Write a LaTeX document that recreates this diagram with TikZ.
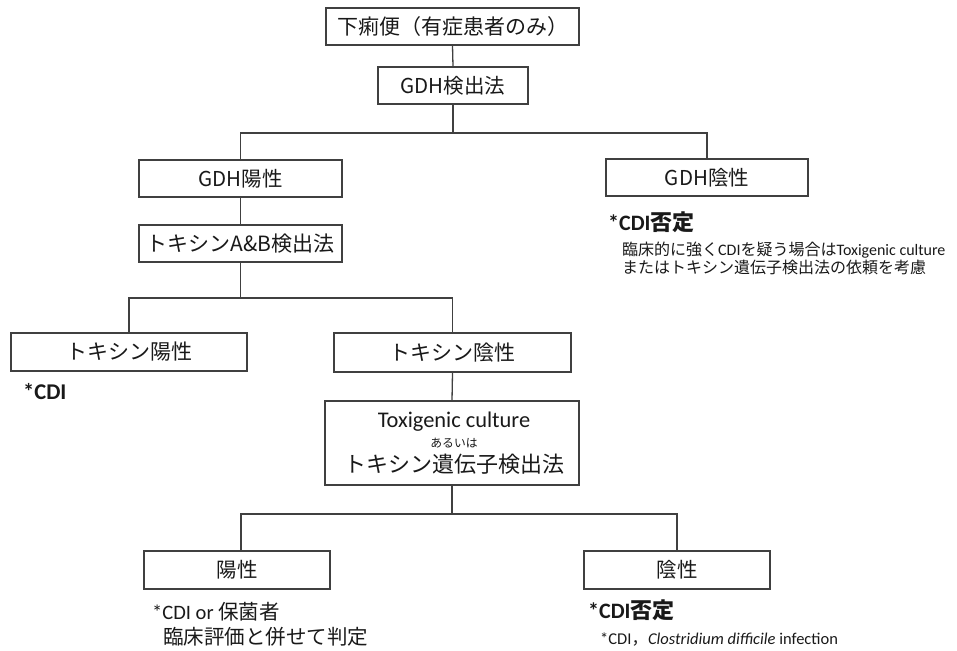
\documentclass[tikz,border=0pt]{standalone}
\usepackage{fontspec}
\setmainfont{Carlito}
\newfontfamily\jp{Noto Sans CJK JP}
\newfontfamily\lat{Carlito}
\begin{document}
\begin{tikzpicture}[x=1pt,y=-1pt,
  box/.style={draw=black!75, line width=1.3pt, inner sep=0pt, align=center, text=black!90,
    minimum height=37pt, font=\jp\fontsize{20.5}{24}\selectfont},
  conn/.style={draw=black!75, line width=1.3pt},
  note/.style={anchor=west, inner sep=0pt, text=black!90},
  txt/.style={inner sep=0pt, text=black!90}]
\useasboundingbox (0,0) rectangle (957,650);

% boxes
\node[box, minimum width=253pt, font=\jp\fontsize{21}{24}\selectfont] (b1) at (452.5,26.5) {下痢便（有症患者のみ）};
\node[box, minimum width=150pt] (b2) at (453,85.5) {GDH検出法};
\node[box, minimum width=203pt] (gp) at (240.5,178.5) {GDH陽性};
\node[box, minimum width=202pt] (gn) at (707,177.5) {GDH陰性};
\node[box, minimum width=203pt, font=\jp\fontsize{21}{24}\selectfont] (ab) at (240.5,243.5) {トキシンA\&B検出法};
\node[box, minimum width=236pt, minimum height=38pt, font=\jp\fontsize{21}{24}\selectfont] (tp) at (129,352) {トキシン陽性};
\node[box, minimum width=237pt, minimum height=39pt, font=\jp\fontsize{21}{24}\selectfont] (tn) at (452.5,352.5) {トキシン陰性};
\node[box, minimum width=254pt, minimum height=84pt] (tg) at (452,443) {};
\node[txt, font=\lat\fontsize{22.4}{24}\selectfont] (tg1) at (454,422) {Toxigenic culture};
\node[txt, font=\jp\fontsize{11.8}{13}\selectfont] (tg2) at (454,443) {あるいは};
\node[txt, font=\jp\fontsize{22}{24}\selectfont] (tg3) at (454,464) {トキシン遺伝子検出法};
\node[box, minimum width=186pt, minimum height=38pt] (p) at (237,570) {陽性};
\node[box, minimum width=186pt, minimum height=38pt] (n) at (677,570) {陰性};

% junctions
\coordinate (j1) at (453,133);
\coordinate (j2) at (240.5,298);
\coordinate (j3) at (452,514);

% connectors
\draw[conn] (b1.south) -- (b2.north);
\draw[conn] (b2.south) -- (j1);
\draw[conn] (gp.north) |- (j1) -| (gn.north);
\draw[conn] (gp.south) -- (ab.north);
\draw[conn] (ab.south) -- (j2);
\draw[conn] (tp.north) |- (j2) -| (tn.north);
\draw[conn] (tn.south) -- (tg.north);
\draw[conn] (tg.south) -- (j3);
\draw[conn] ([xshift=4pt]p.north) |- (j3) -| (n.north);

% notes
\node[note] (r1) at (608,222) {{\lat\bfseries\fontsize{22}{24}\selectfont *CDI}{\jp\bfseries\fontsize{22}{24}\selectfont 否定}};
\node[note, font=\fontsize{16}{18}\selectfont] (r2) at (622,250) {{\jp 臨床的に強く}{\lat CDI}{\jp を疑う場合は}{\lat Toxigenic culture}};
\node[note, font=\jp\fontsize{16}{18}\selectfont] (r3) at (622,267) {またはトキシン遺伝子検出法の依頼を考慮};
\node[note, font=\lat\bfseries\fontsize{22.5}{24}\selectfont] (l1) at (23,392) {*CDI};
\node[note, font=\fontsize{20.5}{24}\selectfont] (l2) at (152,612) {{\lat *CDI or }{\jp 保菌者}};
\node[note, font=\jp\fontsize{20.5}{24}\selectfont] (l3) at (163,637) {臨床評価と併せて判定};
\node[note] (n1) at (588,610) {{\lat\bfseries\fontsize{22}{24}\selectfont *CDI}{\jp\bfseries\fontsize{22}{24}\selectfont 否定}};
\node[note, font=\lat\fontsize{16.5}{18}\selectfont] (n2) at (600,640) {*CDI{\jp ，}\textit{Clostridium difficile} infection};
\end{tikzpicture}
\end{document}
